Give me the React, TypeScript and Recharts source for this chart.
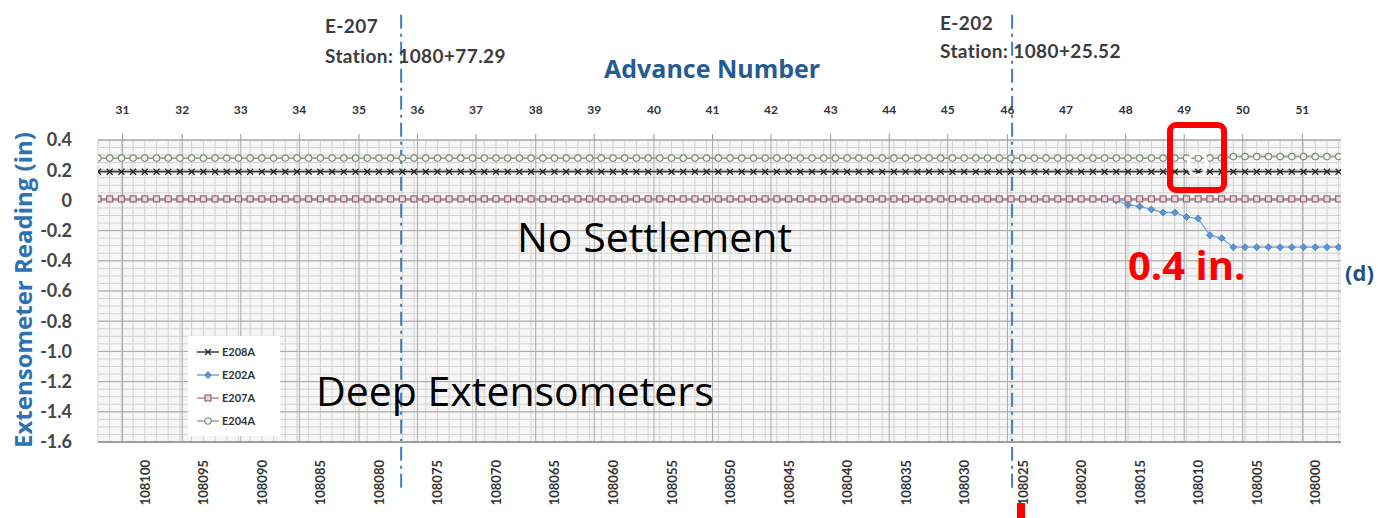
import React from "react";
import {
  LineChart,
  Line,
  XAxis,
  YAxis,
  CartesianGrid,
  ReferenceLine,
  Legend,
} from "recharts";

// station (ft) for every reading, left to right
const stations = [
  108104, 108103, 108102, 108101, 108100, 108099, 108098, 108097, 108096, 108095,
  108094, 108093, 108092, 108091, 108090, 108089, 108088, 108087, 108086, 108085,
  108084, 108083, 108082, 108081, 108080, 108079, 108078, 108077, 108076, 108075,
  108074, 108073, 108072, 108071, 108070, 108069, 108068, 108067, 108066, 108065,
  108064, 108063, 108062, 108061, 108060, 108059, 108058, 108057, 108056, 108055,
  108054, 108053, 108052, 108051, 108050, 108049, 108048, 108047, 108046, 108045,
  108044, 108043, 108042, 108041, 108040, 108039, 108038, 108037, 108036, 108035,
  108034, 108033, 108032, 108031, 108030, 108029, 108028, 108027, 108026, 108025,
  108024, 108023, 108022, 108021, 108020, 108019, 108018, 108017, 108016, 108015,
  108014, 108013, 108012, 108011, 108010, 108009, 108008, 108007, 108006, 108005,
  108004, 108003, 108002, 108001, 108000, 107999, 107998,
];

const e208a = [
  0.19, 0.19, 0.19, 0.19, 0.19, 0.19, 0.19, 0.19, 0.19, 0.19,
  0.19, 0.19, 0.19, 0.19, 0.19, 0.19, 0.19, 0.19, 0.19, 0.19,
  0.19, 0.19, 0.19, 0.19, 0.19, 0.19, 0.19, 0.19, 0.19, 0.19,
  0.19, 0.19, 0.19, 0.19, 0.19, 0.19, 0.19, 0.19, 0.19, 0.19,
  0.19, 0.19, 0.19, 0.19, 0.19, 0.19, 0.19, 0.19, 0.19, 0.19,
  0.19, 0.19, 0.19, 0.19, 0.19, 0.19, 0.19, 0.19, 0.19, 0.19,
  0.19, 0.19, 0.19, 0.19, 0.19, 0.19, 0.19, 0.19, 0.19, 0.19,
  0.19, 0.19, 0.19, 0.19, 0.19, 0.19, 0.19, 0.19, 0.19, 0.19,
  0.19, 0.19, 0.19, 0.19, 0.19, 0.19, 0.19, 0.19, 0.19, 0.19,
  0.19, 0.19, 0.19, 0.19, 0.19, 0.19, 0.19, 0.19, 0.19, 0.19,
  0.19, 0.19, 0.19, 0.19, 0.19, 0.19, 0.19,
];

const e202a = [
  0.01, 0.01, 0.01, 0.01, 0.01, 0.01, 0.01, 0.01, 0.01, 0.01,
  0.01, 0.01, 0.01, 0.01, 0.01, 0.01, 0.01, 0.01, 0.01, 0.01,
  0.01, 0.01, 0.01, 0.01, 0.01, 0.01, 0.01, 0.01, 0.01, 0.01,
  0.01, 0.01, 0.01, 0.01, 0.01, 0.01, 0.01, 0.01, 0.01, 0.01,
  0.01, 0.01, 0.01, 0.01, 0.01, 0.01, 0.01, 0.01, 0.01, 0.01,
  0.01, 0.01, 0.01, 0.01, 0.01, 0.01, 0.01, 0.01, 0.01, 0.01,
  0.01, 0.01, 0.01, 0.01, 0.01, 0.01, 0.01, 0.01, 0.01, 0.01,
  0.01, 0.01, 0.01, 0.01, 0.01, 0.01, 0.01, 0.01, 0.01, 0.01,
  0.01, 0.01, 0.01, 0.01, 0.01, 0.01, 0.01, 0.0, -0.03, -0.04,
  -0.06, -0.08, -0.08, -0.11, -0.12, -0.23, -0.25, -0.31, -0.31, -0.31,
  -0.31, -0.31, -0.31, -0.31, -0.31, -0.31, -0.31,
];

const e207a = [
  0.01, 0.01, 0.01, 0.01, 0.01, 0.01, 0.01, 0.01, 0.01, 0.01,
  0.01, 0.01, 0.01, 0.01, 0.01, 0.01, 0.01, 0.01, 0.01, 0.01,
  0.01, 0.01, 0.01, 0.01, 0.01, 0.01, 0.01, 0.01, 0.01, 0.01,
  0.01, 0.01, 0.01, 0.01, 0.01, 0.01, 0.01, 0.01, 0.01, 0.01,
  0.01, 0.01, 0.01, 0.01, 0.01, 0.01, 0.01, 0.01, 0.01, 0.01,
  0.01, 0.01, 0.01, 0.01, 0.01, 0.01, 0.01, 0.01, 0.01, 0.01,
  0.01, 0.01, 0.01, 0.01, 0.01, 0.01, 0.01, 0.01, 0.01, 0.01,
  0.01, 0.01, 0.01, 0.01, 0.01, 0.01, 0.01, 0.01, 0.01, 0.01,
  0.01, 0.01, 0.01, 0.01, 0.01, 0.01, 0.01, 0.01, 0.01, 0.01,
  0.01, 0.01, 0.01, 0.01, 0.01, 0.01, 0.01, 0.01, 0.01, 0.01,
  0.01, 0.01, 0.01, 0.01, 0.01, 0.01, 0.01,
];

const e204a = [
  0.28, 0.28, 0.28, 0.28, 0.28, 0.28, 0.28, 0.28, 0.28, 0.28,
  0.28, 0.28, 0.28, 0.28, 0.28, 0.28, 0.28, 0.28, 0.28, 0.28,
  0.28, 0.28, 0.28, 0.28, 0.28, 0.28, 0.28, 0.28, 0.28, 0.28,
  0.28, 0.28, 0.28, 0.28, 0.28, 0.28, 0.28, 0.28, 0.28, 0.28,
  0.28, 0.28, 0.28, 0.28, 0.28, 0.28, 0.28, 0.28, 0.28, 0.28,
  0.28, 0.28, 0.28, 0.28, 0.28, 0.28, 0.28, 0.28, 0.28, 0.28,
  0.28, 0.28, 0.28, 0.28, 0.28, 0.28, 0.28, 0.28, 0.28, 0.28,
  0.28, 0.28, 0.28, 0.28, 0.28, 0.28, 0.28, 0.28, 0.28, 0.28,
  0.28, 0.28, 0.28, 0.28, 0.28, 0.28, 0.28, 0.28, 0.28, 0.28,
  0.28, 0.28, 0.28, 0.28, 0.28, 0.28, 0.28, 0.29, 0.29, 0.29,
  0.29, 0.29, 0.29, 0.29, 0.29, 0.29, 0.29,
];

const stationTicks = [
  108100, 108095, 108090, 108085, 108080, 108075, 108070, 108065, 108060, 108055,
  108050, 108045, 108040, 108035, 108030, 108025, 108020, 108015, 108010, 108005,
  108000,
];

// advance numbers on the top axis and the station each one sits at
const advances = [31, 32, 33, 34, 35, 36, 37, 38, 39, 40, 41, 42, 43, 44, 45, 46, 47, 48, 49, 50, 51];
const advanceStations = [
  108101.9, 108096.8, 108091.8, 108086.8, 108081.7, 108076.7, 108071.7, 108066.6, 108061.6, 108056.5,
  108051.5, 108046.5, 108041.4, 108036.4, 108031.4, 108026.3, 108021.3, 108016.2, 108011.2, 108006.2,
  108001.1,
];

const yTicks = [-1.6, -1.4, -1.2, -1.0, -0.8, -0.6, -0.4, -0.2, 0, 0.2, 0.4];
const yTickLabels = ["-1.6", "-1.4", "-1.2", "-1.0", "-0.8", "-0.6", "-0.4", "-0.2", "0", "0.2", "0.4"];

// extensometer locations
const extensometers = [
  { name: "E-207", station: 108078.1, text: "Station: 1080+77.29" },
  { name: "E-202", station: 108025.9, text: "Station: 1080+25.52" },
];

const data = stations.map((station, i) => ({
  station,
  E208A: e208a[i],
  E202A: e202a[i],
  E207A: e207a[i],
  E204A: e204a[i],
}));

const stationDomain: [number, number] = [107997.8, 108104];

// fine grid: every foot / every 0.05 in
const minorX: number[] = [];
for (let s = 107998; s <= 108104; s++) minorX.push(s);
const minorY: number[] = [];
for (let k = -32; k <= 8; k++) minorY.push(Math.round(k * 5) / 100);

const colors = {
  E208A: "#3a3a3a",
  E202A: "#7ba7d7",
  E207A: "#b88f9b",
  E204A: "#9aa58f",
};

const CrossDot = (p: any) => {
  if (p.cy == null) return <g key={p.index} />;
  const { cx, cy } = p;
  return (
    <g key={p.index}>
      <line x1={cx - 3} y1={cy - 3} x2={cx + 3} y2={cy + 3} stroke="#222" strokeWidth={1.2} />
      <line x1={cx - 3} y1={cy + 3} x2={cx + 3} y2={cy - 3} stroke="#222" strokeWidth={1.2} />
    </g>
  );
};

const DiamondDot = (p: any) => {
  if (p.cy == null) return <g key={p.index} />;
  const { cx, cy } = p;
  return (
    <path
      key={p.index}
      d={`M${cx},${cy - 3.5}L${cx + 3.5},${cy}L${cx},${cy + 3.5}L${cx - 3.5},${cy}Z`}
      fill="#5d93cf"
      stroke="#4a80bd"
      strokeWidth={0.8}
    />
  );
};

const SquareDot = (p: any) => {
  if (p.cy == null) return <g key={p.index} />;
  const { cx, cy } = p;
  return (
    <rect key={p.index} x={cx - 3} y={cy - 3} width={6} height={6} fill="#e8d8dc" stroke="#9a6474" strokeWidth={1.2} />
  );
};

const CircleDot = (p: any) => {
  if (p.cy == null) return <g key={p.index} />;
  const { cx, cy } = p;
  return <circle key={p.index} cx={cx} cy={cy} r={3.2} fill="#f2f4ee" stroke="#7f8c74" strokeWidth={1.1} />;
};

const legendItems = [
  { key: "E208A", Dot: CrossDot },
  { key: "E202A", Dot: DiamondDot },
  { key: "E207A", Dot: SquareDot },
  { key: "E204A", Dot: CircleDot },
];

const LegendBox = () => (
  <div style={{ background: "#fff", padding: "4px 6px 4px 8px", width: 78 }}>
    {legendItems.map(({ key, Dot }) => (
      <div key={key} style={{ display: "flex", alignItems: "center", height: 23 }}>
        <svg width={24} height={10}>
          <line x1={1} y1={5} x2={23} y2={5} stroke={(colors as any)[key]} strokeWidth={1.5} />
          <Dot cx={12} cy={5} index={0} />
        </svg>
        <span style={{ fontFamily: "Lato", fontWeight: 700, fontSize: 11, color: "#333", marginLeft: 2 }}>{key}</span>
      </div>
    ))}
  </div>
);

const StationTick = (p: any) => {
  const { x, y, payload } = p;
  const ty = y + 18;
  return (
    <text
      x={x}
      y={ty}
      transform={`rotate(-90, ${x}, ${ty})`}
      textAnchor="end"
      dominantBaseline="central"
      fontFamily="Lato"
      fontWeight={700}
      fontSize={13}
      fill="#333"
    >
      {payload.value}
    </text>
  );
};

const txt = (
  left: number,
  cy: number,
  size: number,
  content: string,
  extra: React.CSSProperties = {}
) => (
  <div
    style={{
      position: "absolute",
      left,
      top: cy - size / 2,
      fontSize: size,
      lineHeight: 1,
      whiteSpace: "nowrap",
      ...extra,
    }}
  >
    {content}
  </div>
);

const label = { fontFamily: "Lato", fontWeight: 700, color: "#3c3c3c", letterSpacing: 0.4 } as React.CSSProperties;

export default function App() {
  return (
    <div
      style={{
        position: "absolute",
        left: 0,
        top: 0,
        width: 1378,
        height: 518,
        background: "#fff",
        overflow: "hidden",
      }}
    >
      <LineChart width={1378} height={518} data={data} margin={{ top: 100, right: 37, bottom: 6, left: 0 }}>
        <CartesianGrid
          xAxisId="st"
          verticalValues={minorX}
          horizontalValues={minorY}
          stroke="#d2d2d2"
          fill="#f6f6f6"
        />
        <CartesianGrid
          xAxisId="top"
          verticalValues={advanceStations}
          horizontalValues={yTicks}
          stroke="#a9a9a9"
        />
        <XAxis
          xAxisId="st"
          dataKey="station"
          type="number"
          domain={stationDomain}
          reversed
          allowDataOverflow
          ticks={stationTicks}
          interval={0}
          height={70}
          tickSize={0}
          tickMargin={0}
          tick={<StationTick />}
          axisLine={{ stroke: "#9f9f9f", strokeWidth: 2 }}
        />
        <XAxis
          xAxisId="top"
          dataKey="station"
          orientation="top"
          type="number"
          domain={stationDomain}
          reversed
          allowDataOverflow
          ticks={advanceStations}
          interval={0}
          height={40}
          tickSize={6}
          tickMargin={20}
          tickFormatter={(v: number) => String(advances[advanceStations.indexOf(v)] ?? "")}
          tick={{ fontFamily: "Lato", fontWeight: 700, fontSize: 12, fill: "#333" }}
          tickLine={{ stroke: "#999" }}
          axisLine={{ stroke: "#b0b0b0" }}
        />
        <YAxis
          type="number"
          domain={[-1.6, 0.4]}
          ticks={yTicks}
          interval={0}
          width={98}
          tickLine={false}
          axisLine={false}
          tickSize={0}
          tickMargin={26}
          tickFormatter={(v: number) => yTickLabels[yTicks.indexOf(v)] ?? String(v)}
          tick={{ fontFamily: "Lato", fontWeight: 700, fontSize: 18, fill: "#444" }}
        />
        <Line
          xAxisId="st"
          dataKey="E208A"
          stroke={colors.E208A}
          strokeWidth={1.6}
          dot={CrossDot}
          activeDot={false}
          isAnimationActive={false}
        />
        <Line
          xAxisId="st"
          dataKey="E202A"
          stroke={colors.E202A}
          strokeWidth={1.3}
          dot={DiamondDot}
          activeDot={false}
          isAnimationActive={false}
        />
        <Line
          xAxisId="st"
          dataKey="E207A"
          stroke={colors.E207A}
          strokeWidth={2}
          dot={SquareDot}
          activeDot={false}
          isAnimationActive={false}
        />
        <Line
          xAxisId="st"
          dataKey="E204A"
          stroke={colors.E204A}
          strokeWidth={1.6}
          dot={CircleDot}
          activeDot={false}
          isAnimationActive={false}
        />
        {extensometers.map((e) => (
          <ReferenceLine
            key={e.name}
            xAxisId="st"
            segment={[
              { x: e.station, y: 1.23 },
              { x: e.station, y: -1.92 },
            ]}
            ifOverflow="visible"
            stroke="#3d7fc1"
            strokeWidth={2}
            strokeDasharray="14 5 3 5"
          />
        ))}
        <Legend
          layout="vertical"
          align="center"
          verticalAlign="middle"
          content={<LegendBox />}
          wrapperStyle={{ left: 188, top: 336, width: 92 }}
        />
      </LineChart>

      {txt(325, 25, 19, extensometers[0].name, label)}
      {txt(325, 55, 19, extensometers[0].text, label)}
      {txt(940, 22, 19, extensometers[1].name, label)}
      {txt(940, 50, 19, extensometers[1].text, label)}
      {txt(604, 68, 25, "Advance Number", {
        fontFamily: "Open Sans",
        fontWeight: 700,
        color: "#245b92",
      })}
      {txt(517, 236, 41, "No Settlement", { fontFamily: "Open Sans", color: "#000" })}
      {txt(316, 390, 41, "Deep Extensometers", { fontFamily: "Open Sans", color: "#000" })}
      {txt(1128, 265, 40, "0.4 in.", { fontFamily: "Open Sans", fontWeight: 700, color: "#ff0000" })}
      {txt(1345, 272, 22, "(d)", { fontFamily: "Open Sans", fontWeight: 700, color: "#24527f" })}
      <div
        style={{
          position: "absolute",
          left: 22,
          top: 290,
          transform: "translate(-50%, -50%) rotate(-90deg)",
          fontFamily: "Open Sans",
          fontWeight: 700,
          fontSize: 24,
          color: "#2e72b3",
          whiteSpace: "nowrap",
        }}
      >
        Extensometer Reading (in)
      </div>
      <div
        style={{
          position: "absolute",
          left: 1167,
          top: 122,
          width: 48,
          height: 59,
          border: "6px solid #ff0000",
          borderRadius: 9,
        }}
      />
      {txt(1185, 164, 32, "O", { fontFamily: "Open Sans", color: "#fff" })}
      <div style={{ position: "absolute", left: 1017, top: 503, width: 8, height: 15, background: "#ff0000" }} />
    </div>
  );
}
